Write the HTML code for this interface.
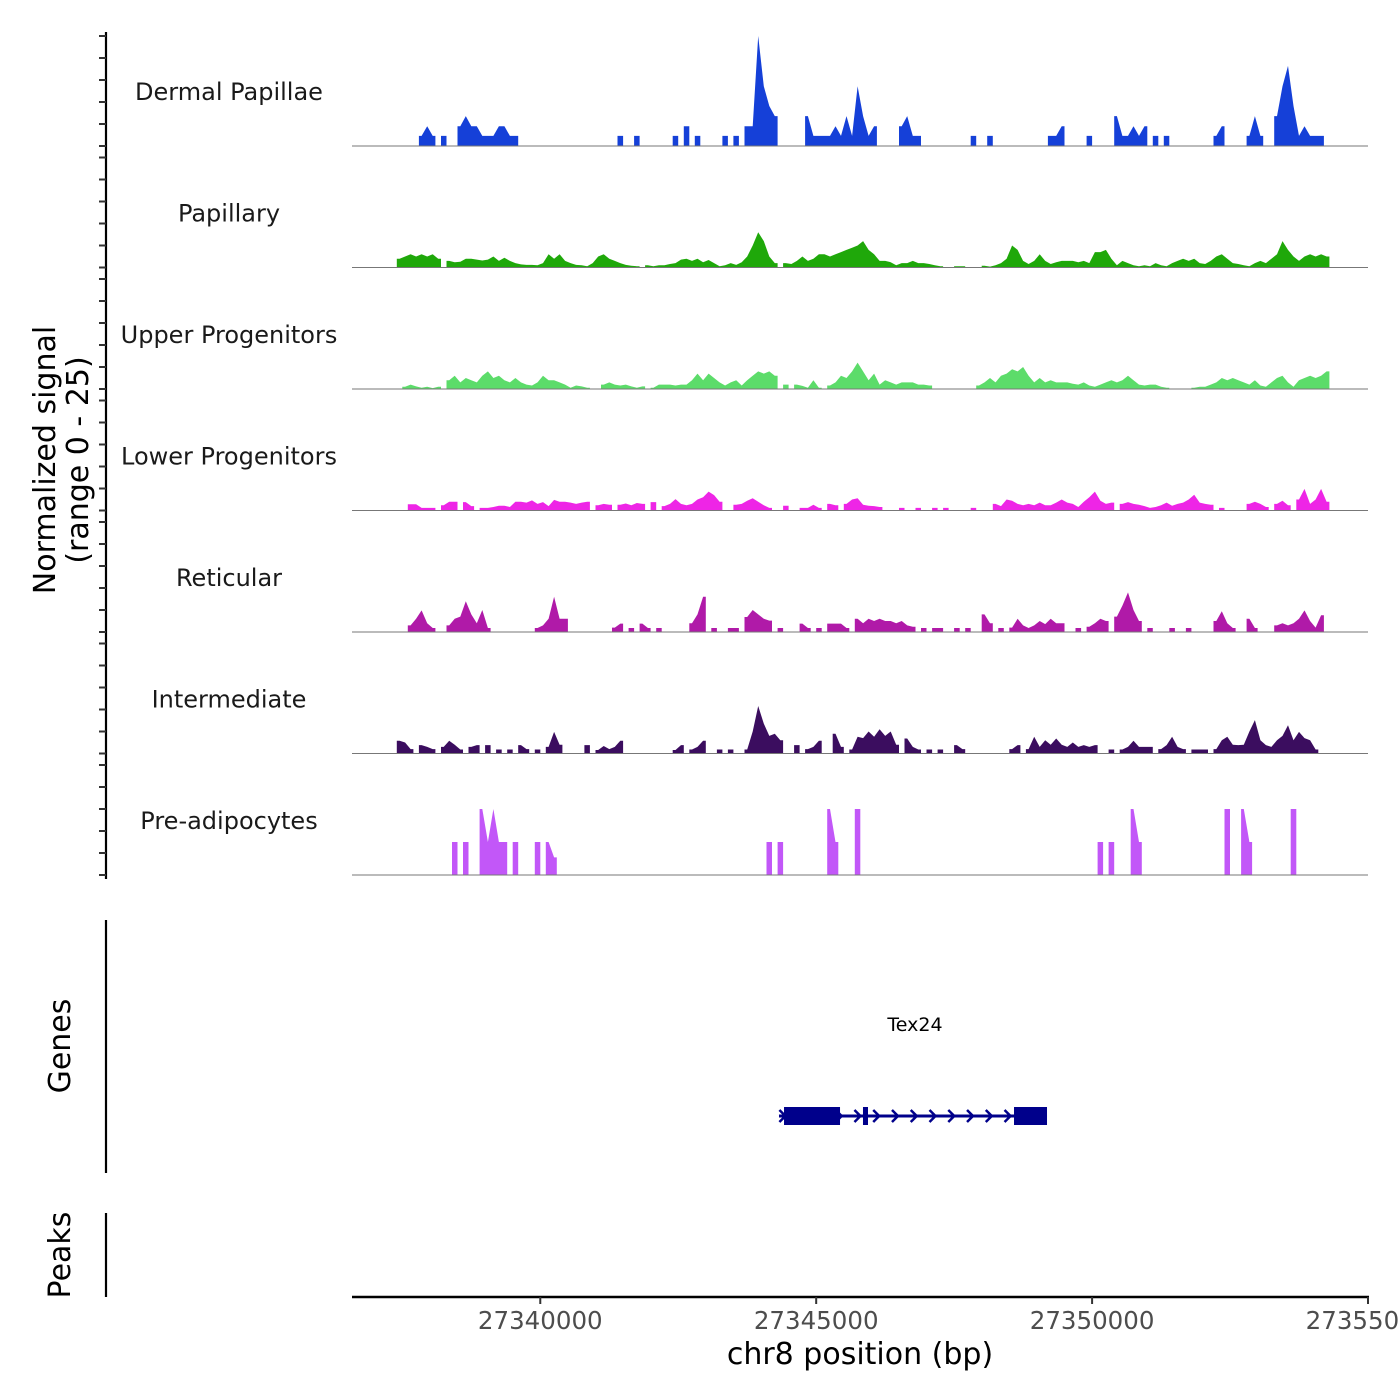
<!DOCTYPE html>
<html><head><meta charset="utf-8"><style>
html,body{margin:0;padding:0;background:#fff;}
svg{display:block;font-family:"DejaVu Sans","Liberation Sans",sans-serif;}
</style></head><body>
<svg id="chart" width="1400" height="1400" viewBox="0 0 1400 1400"></svg>
<script>
// ---- data ----
const trackNames = ["Dermal Papillae","Papillary","Upper Progenitors","Lower Progenitors","Reticular","Intermediate","Pre-adipocytes"];
const trackColors = ["#1540d8","#1fa80a","#5cdc6a","#ee25e6","#b01aa8","#3b0d5f","#c257f8"];
const binStart = 27336600;
const binSize = 100;
const dpVals = [0,0,0,0,0,0,0,0,0,0, 0,0,2.3,4.5,2.3,0,2.3,0,0,4.5, 6.8,4.5,4.5,2.3,2.3,2.3,4.5,4.5,2.3,2.3, 0,0,0,0,0,0,0,0,0,0, 0,0,0,0,0,0,0,0,2.3,0, 0,2.3,0,0,0,0,0,0,2.3,0, 4.5,0,2.3,0,0,0,0,2.3,0,2.3, 0,4.5,4.5,25,13.6,9.1,6.8,0,0,0, 0,0,6.8,2.3,2.3,2.3,2.3,4.5,2.3,6.8, 2.3,13.6,6.8,2.3,4.5,0,0,0,0,4.5, 6.8,2.3,2.3,0,0,0,0,0,0,0, 0,0,2.3,0,0,2.3,0,0,0,0, 0,0,0,0,0,0,2.3,2.3,4.5,0, 0,0,0,2.3,0,0,0,0,6.8,2.3, 2.3,4.5,2.3,4.5,0,2.3,0,2.3,0,0, 0,0,0,0,0,0,2.3,4.5,0,0, 0,0,2.3,6.8,2.3,0,0,6.8,13.6,18.2, 9.1,2.3,4.5,2.3,2.3,2.3,0,0,0,0, 0,0,0,0,0];
const papVals = [0,0,0,0,0,0,0,0,2,2.5, 3,2.5,3,2.5,3,2,0,1.5,1.2,1.3, 2,2,1.8,1.6,1.8,2.5,1.5,2.2,1.5,1, 0.7,0.6,0.6,0.5,1,3,2,3,1.5,1, 0.6,0.5,0.3,1,2.5,3,2,1.5,1,0.6, 0.4,0.3,0,0.5,0.3,0.5,0.5,0.8,1,1.8, 2,1.5,2,1.2,1.7,1,0.3,0.5,1,0.6, 1.2,2.5,5,8,6,2.5,1,0,1,0.8, 1.5,2.5,1.5,2,3,3,2.5,3,3.5,4, 4.5,5,6,4,3,1.5,1.5,1.2,0.5,1, 1,1.5,1,1,0.8,0.5,0.3,0,0,0.3, 0.3,0,0,0,0.4,0.2,0.5,1,2,5, 4,1.5,0.8,1.5,3,1.5,0.8,1.2,1.5,1.5, 1.5,1.2,1.5,1,3.5,3.5,4,2,0.5,1.5, 1,0.5,0.3,0.5,0.3,1,0.5,0.3,1,1.5, 2,1.5,2,1,0.8,1.5,2.5,3,2,1, 0.8,0.5,0.3,1,1.5,1,2,3,6,4, 2.5,1.5,2.5,3,2.5,3,2.5,0,0,0, 0,0,0,0,0];
const upVals = [0,0,0,0,0,0,0,0,0,0.5, 1,0.6,0.3,0.5,0.2,0.5,0,2,3,1.5, 2.5,2,1.5,3,4,2.5,3,2,1.5,2.5, 1.5,1,0.8,1.5,3,2,2,1.5,1,0.3, 0.8,0.6,0.3,0,0,1,1.5,1,0.8,1, 0.6,0.3,0.6,0,0.3,1,1,1,0.8,1, 1,2,3.5,2,3.5,2.5,1.5,0.8,1.5,2, 0.8,2,3,4,3.5,4,3,0,1,0, 1,0.7,0.3,2,0.3,0,0.8,1.5,3,2.5, 4,6,4,2,3.5,1,2,1.5,1,1.5, 1.5,1.5,1,1,0.8,0,0,0,0,0, 0,0,0,0.8,1.5,2.5,1.5,3,3.5,4.5, 4,5,3,1.5,2.5,1.5,2,1.5,1.5,1.5, 1.2,1,1.5,0.8,0.5,1,1.5,2,1.5,2, 3,2,1,0.8,1,1,0.5,0.3,0,0, 0,0,0.3,0.5,0.5,1,1.5,2.5,2,2.5, 2,1.5,1,2,0.8,0.5,1.5,2.5,3,1.5, 0.5,2,2.5,3,2.5,3,4,0,0,0, 0,0,0,0,0];
const lpVals = [0,0,0,0,0,0,0,0,0,0, 1.4,1.4,0.6,0.6,0.6,0,1.2,2,2,0, 1.9,1,0,0.6,0.6,0.8,1.1,1.1,0.8,2, 2,1.8,2.3,1.5,1.9,1,2.4,2,2,1.8, 1.5,1.8,2,0,1.2,1.5,1.3,0,1.3,1.6, 1.2,1.7,1.5,0,1.9,0,1,1.5,2.6,1.5, 1.2,1.5,2.5,3,4.3,3.5,2,0,0,1.3, 1.5,2.2,2.8,2,1.2,0.6,0,0,1.1,0, 0,0.6,0.6,1.3,0.6,0,1.5,1.2,0,1.5, 2.5,2.8,1.3,1.1,1,0.8,0,0,0,0.6, 0,0,0.6,0,0,0.6,0,0.6,0,0, 0,0,0.6,0,0,0,1.5,1,2.5,2.2, 1.5,1.2,1.5,1.2,1.8,1.2,1.2,1.8,2.5,1.8, 1.5,0.8,2,3,4.3,2.2,1.5,1.8,0,1.5, 1.9,1.5,1.3,1,0.6,0.8,1.2,1.8,1.1,1.5, 1.8,2.5,3.6,1.8,1.5,1.3,0,0.6,0,0, 0,0,1.5,2,1.5,0.8,0,1.5,2.2,1.2, 0,2.5,4.9,1.5,2.5,4.9,2,0,0,0, 0,0,0,0,0];
const rtVals = [0,0,0,0,0,0,0,0,0,0, 1.5,3,4.9,2,0.9,0,0,1.5,3,3.5, 7,4,2,5,0.9,0,0,0,0,0, 0,0,0,0.9,1.5,3,8,3,3,0, 0,0,0,0,0,0,0,1,1.9,0, 0.9,0,1.9,0.9,0,0.9,0,0,0,0, 0,2,4,8,0,0.9,0,0,0.9,0.9, 0,3.4,5,4,3,2.6,0,0.9,0,0, 0,1.9,0.9,0,0.9,0,1.9,1.9,1.9,0.9, 0,3,2,3,2.5,3,2.5,2.5,2,2.5, 1.5,1.2,0,0.9,0,0.9,0.9,0,0,0.9, 0,0.9,0,0,4,2,0,0.9,0,1, 3,1.5,0.9,1.5,2.5,1.8,3,2,2,0, 0,0.9,0,1.2,2,3,2.5,0,3.5,6, 9,5,2.5,0,0.9,0,0,0,0.9,0, 0,0.9,0,0,0,0,2.5,4.7,2,0.9, 0,0,3,0.9,0,0,0,1.5,2,1.5, 2,3,4.9,2.5,1,3.8,0,0,0,0, 0,0,0,0,0];
const imVals = [0,0,0,0,0,0,0,0,2.9,2.5, 1,0,1.9,1.5,1,0,1.5,2.9,2,0.9, 0,1.5,1.9,0,1.9,0,0.9,0,0.9,0, 1.9,1,0,0.9,0,1.5,4.9,2,0,0, 0,0,1.9,0,0.8,1.7,1,1.5,2.9,0, 0,0,0,0,0,0,0,0,0.8,1.9, 0,0.9,1.5,2.9,0,0,0.9,0,0.9,0, 0,0.9,5,10.8,6.8,4,4.5,3,0,0, 1.9,0,1,1.5,2.9,0,0,4.5,1.5,0, 0.9,3.8,3.5,5,3.8,5.5,4,5,2,0, 3.4,1.5,0.9,0,0.9,0,0.9,0,0,1.9, 1,0,0,0,0,0,0,0,0,1, 1.9,0,1,3.8,1.5,3,2,3.4,2,1.5, 2.5,1.5,1.9,1.5,1.9,0,0,0.9,0,0.9, 1.5,2.9,1.5,1.5,1.5,0,1,1.9,3.8,1.5, 1,0,0.9,0.9,0.9,0,1,3,3.8,2, 1.9,2,5,7.6,3,1.9,1.5,3,4,6.4, 3,4.9,3.5,3,0.9,0,0,0,0,0, 0,0,0,0,0];
const paVals = [0,0,0,0,0,0,0,0,0,0, 0,0,0,0,0,0,0,0,7.5,0, 7.5,0,0,15,7.5,15,7.5,7.5,0,7.5, 0,0,0,7.5,0,7.5,4,0,0,0, 0,0,0,0,0,0,0,0,0,0, 0,0,0,0,0,0,0,0,0,0, 0,0,0,0,0,0,0,0,0,0, 0,0,0,0,0,7.5,0,7.5,0,0, 0,0,0,0,0,0,15,7.5,0,0, 0,15,0,0,0,0,0,0,0,0, 0,0,0,0,0,0,0,0,0,0, 0,0,0,0,0,0,0,0,0,0, 0,0,0,0,0,0,0,0,0,0, 0,0,0,0,0,7.5,0,7.5,0,0, 0,15,7.5,0,0,0,0,0,0,0, 0,0,0,0,0,0,0,0,15,0, 0,15,7.5,0,0,0,0,0,0,0, 15,0,0,0,0,0,0,0,0,0, 0,0,0,0,0];
const allVals = [dpVals,papVals,upVals,lpVals,rtVals,imVals,paVals];
const xTicks = [27340000,27345000,27350000,27355000];
const xTickLabels = ["27340000","27345000","27350000","27355000"];
const geneName = "Tex24";
const geneStart = 27344326, geneEnd = 27349183;
const exonStarts = [27344417,27345848,27348585];
const exonEnds = [27345432,27345939,27349183];

// ---- scales ----
const NS="http://www.w3.org/2000/svg";
const svg=document.getElementById('chart');
const X0=352,X1=1368,D0=27336588,D1=27355000;
function xs(bp){return X0+(bp-D0)*(X1-X0)/(D1-D0);}
const trackTop=36, trackPitch=121.5, trackH=110, yMax=25;
function baseY(t){return trackTop+trackH+t*trackPitch;}
function ys(v,t){return baseY(t)-Math.min(v,yMax)/yMax*trackH;}
function mk(tag,attrs,parent){const e=document.createElementNS(NS,tag);for(const k in attrs)e.setAttribute(k,attrs[k]);(parent||svg).appendChild(e);return e;}

// left signal axis
const ax=mk('line',{x1:106,y1:32,x2:106,y2:879,stroke:'#000','stroke-width':2.2});


for(let t=0;t<7;t++){
  for(let k=0;k<=25;k+=5){
    const y=ys(k,t);
    const tk=mk('line',{x1:99,y1:y,x2:106,y2:y,stroke:'#333','stroke-width':2});
    
    
  }
}

// tracks (linear interpolation between bin centres, drop to zero at run edges)
for(let t=0;t<7;t++){
  const g=mk('g',{});
  
  
  const by=baseY(t);
  const vals=allVals[t];
  let d='';
  let i=0;
  while(i<vals.length){
    if(vals[i]>0){
      const s=i;
      const xa=xs(binStart+s*binSize);
      let p='M'+xa.toFixed(1)+','+by+' L'+xa.toFixed(1)+','+ys(vals[s],t).toFixed(1);
      while(i<vals.length&&vals[i]>0){
        const xc=xs(binStart+(i+0.5)*binSize);
        p+=' L'+xc.toFixed(1)+','+ys(vals[i],t).toFixed(1);
        i++;
      }
      const xb=xs(binStart+i*binSize);
      p+=' L'+xb.toFixed(1)+','+ys(vals[i-1],t).toFixed(1)+' L'+xb.toFixed(1)+','+by+' Z';
      d+=p;
    } else i++;
  }
  const area=mk('path',{d:d,fill:trackColors[t],stroke:'none'},g);
  
  
  const bl=mk('line',{x1:X0,y1:by,x2:X1,y2:by,stroke:'#777','stroke-width':1},g);
  
  
  const lab=mk('text',{x:229,y:by-46,'text-anchor':'middle','font-size':24,fill:'#1a1a1a'},g);
  lab.textContent=trackNames[t];
  
  
}

// y title
const yt=mk('text',{transform:'translate(55,460) rotate(-90)','text-anchor':'middle','font-size':30,fill:'#000'});


const t1=mk('tspan',{x:0,y:0},yt); t1.textContent='Normalized signal';
const t2=mk('tspan',{x:0,y:33},yt); t2.textContent='(range 0 - 25)';

// genes panel
const ga=mk('line',{x1:106,y1:920,x2:106,y2:1173,stroke:'#000','stroke-width':2.2});


const gt=mk('text',{transform:'translate(70,1046) rotate(-90)','text-anchor':'middle','font-size':30,fill:'#000'});
gt.textContent='Genes';


const gg=mk('g',{});


const gy=1116;
const gl=mk('line',{x1:xs(geneStart),y1:gy,x2:xs(geneEnd),y2:gy,stroke:'#00008b','stroke-width':3},gg);


for(let bp=geneStart+80;bp<geneEnd-200;bp+=340){
  const x=xs(bp);
  const c=mk('path',{d:`M${x-4},${gy-6} L${x+2},${gy} L${x-4},${gy+6}`,fill:'none',stroke:'#00008b','stroke-width':2.5},gg);
  
  
}
for(let k=0;k<exonStarts.length;k++){
  const x=xs(exonStarts[k]), w=xs(exonEnds[k])-x;
  const r=mk('rect',{x:x,y:gy-9,width:w,height:18,fill:'#00008b'},gg);
  
  
}
const gn=mk('text',{x:915,y:1031,'text-anchor':'middle','font-size':19,fill:'#000'},gg);
gn.textContent=geneName;



// peaks panel
const pa=mk('line',{x1:106,y1:1213,x2:106,y2:1297,stroke:'#000','stroke-width':2.2});


const pt=mk('text',{transform:'translate(70,1255) rotate(-90)','text-anchor':'middle','font-size':30,fill:'#000'});
pt.textContent='Peaks';



// x axis
const xa=mk('line',{x1:X0,y1:1297,x2:X1+1,y2:1297,stroke:'#000','stroke-width':2.5});


for(let k=0;k<xTicks.length;k++){
  const x=xs(xTicks[k]);
  const tk=mk('line',{x1:x,y1:1297,x2:x,y2:1304,stroke:'#333','stroke-width':2});
  
  
  const tl=mk('text',{x:x,y:1329,'text-anchor':'middle','font-size':24.5,fill:'#4d4d4d'});
  tl.textContent=xTickLabels[k];
  
  
}
const xt=mk('text',{x:860,y:1364,'text-anchor':'middle','font-size':30,fill:'#000'});
xt.textContent='chr8 position (bp)';


</script>
</body></html>
